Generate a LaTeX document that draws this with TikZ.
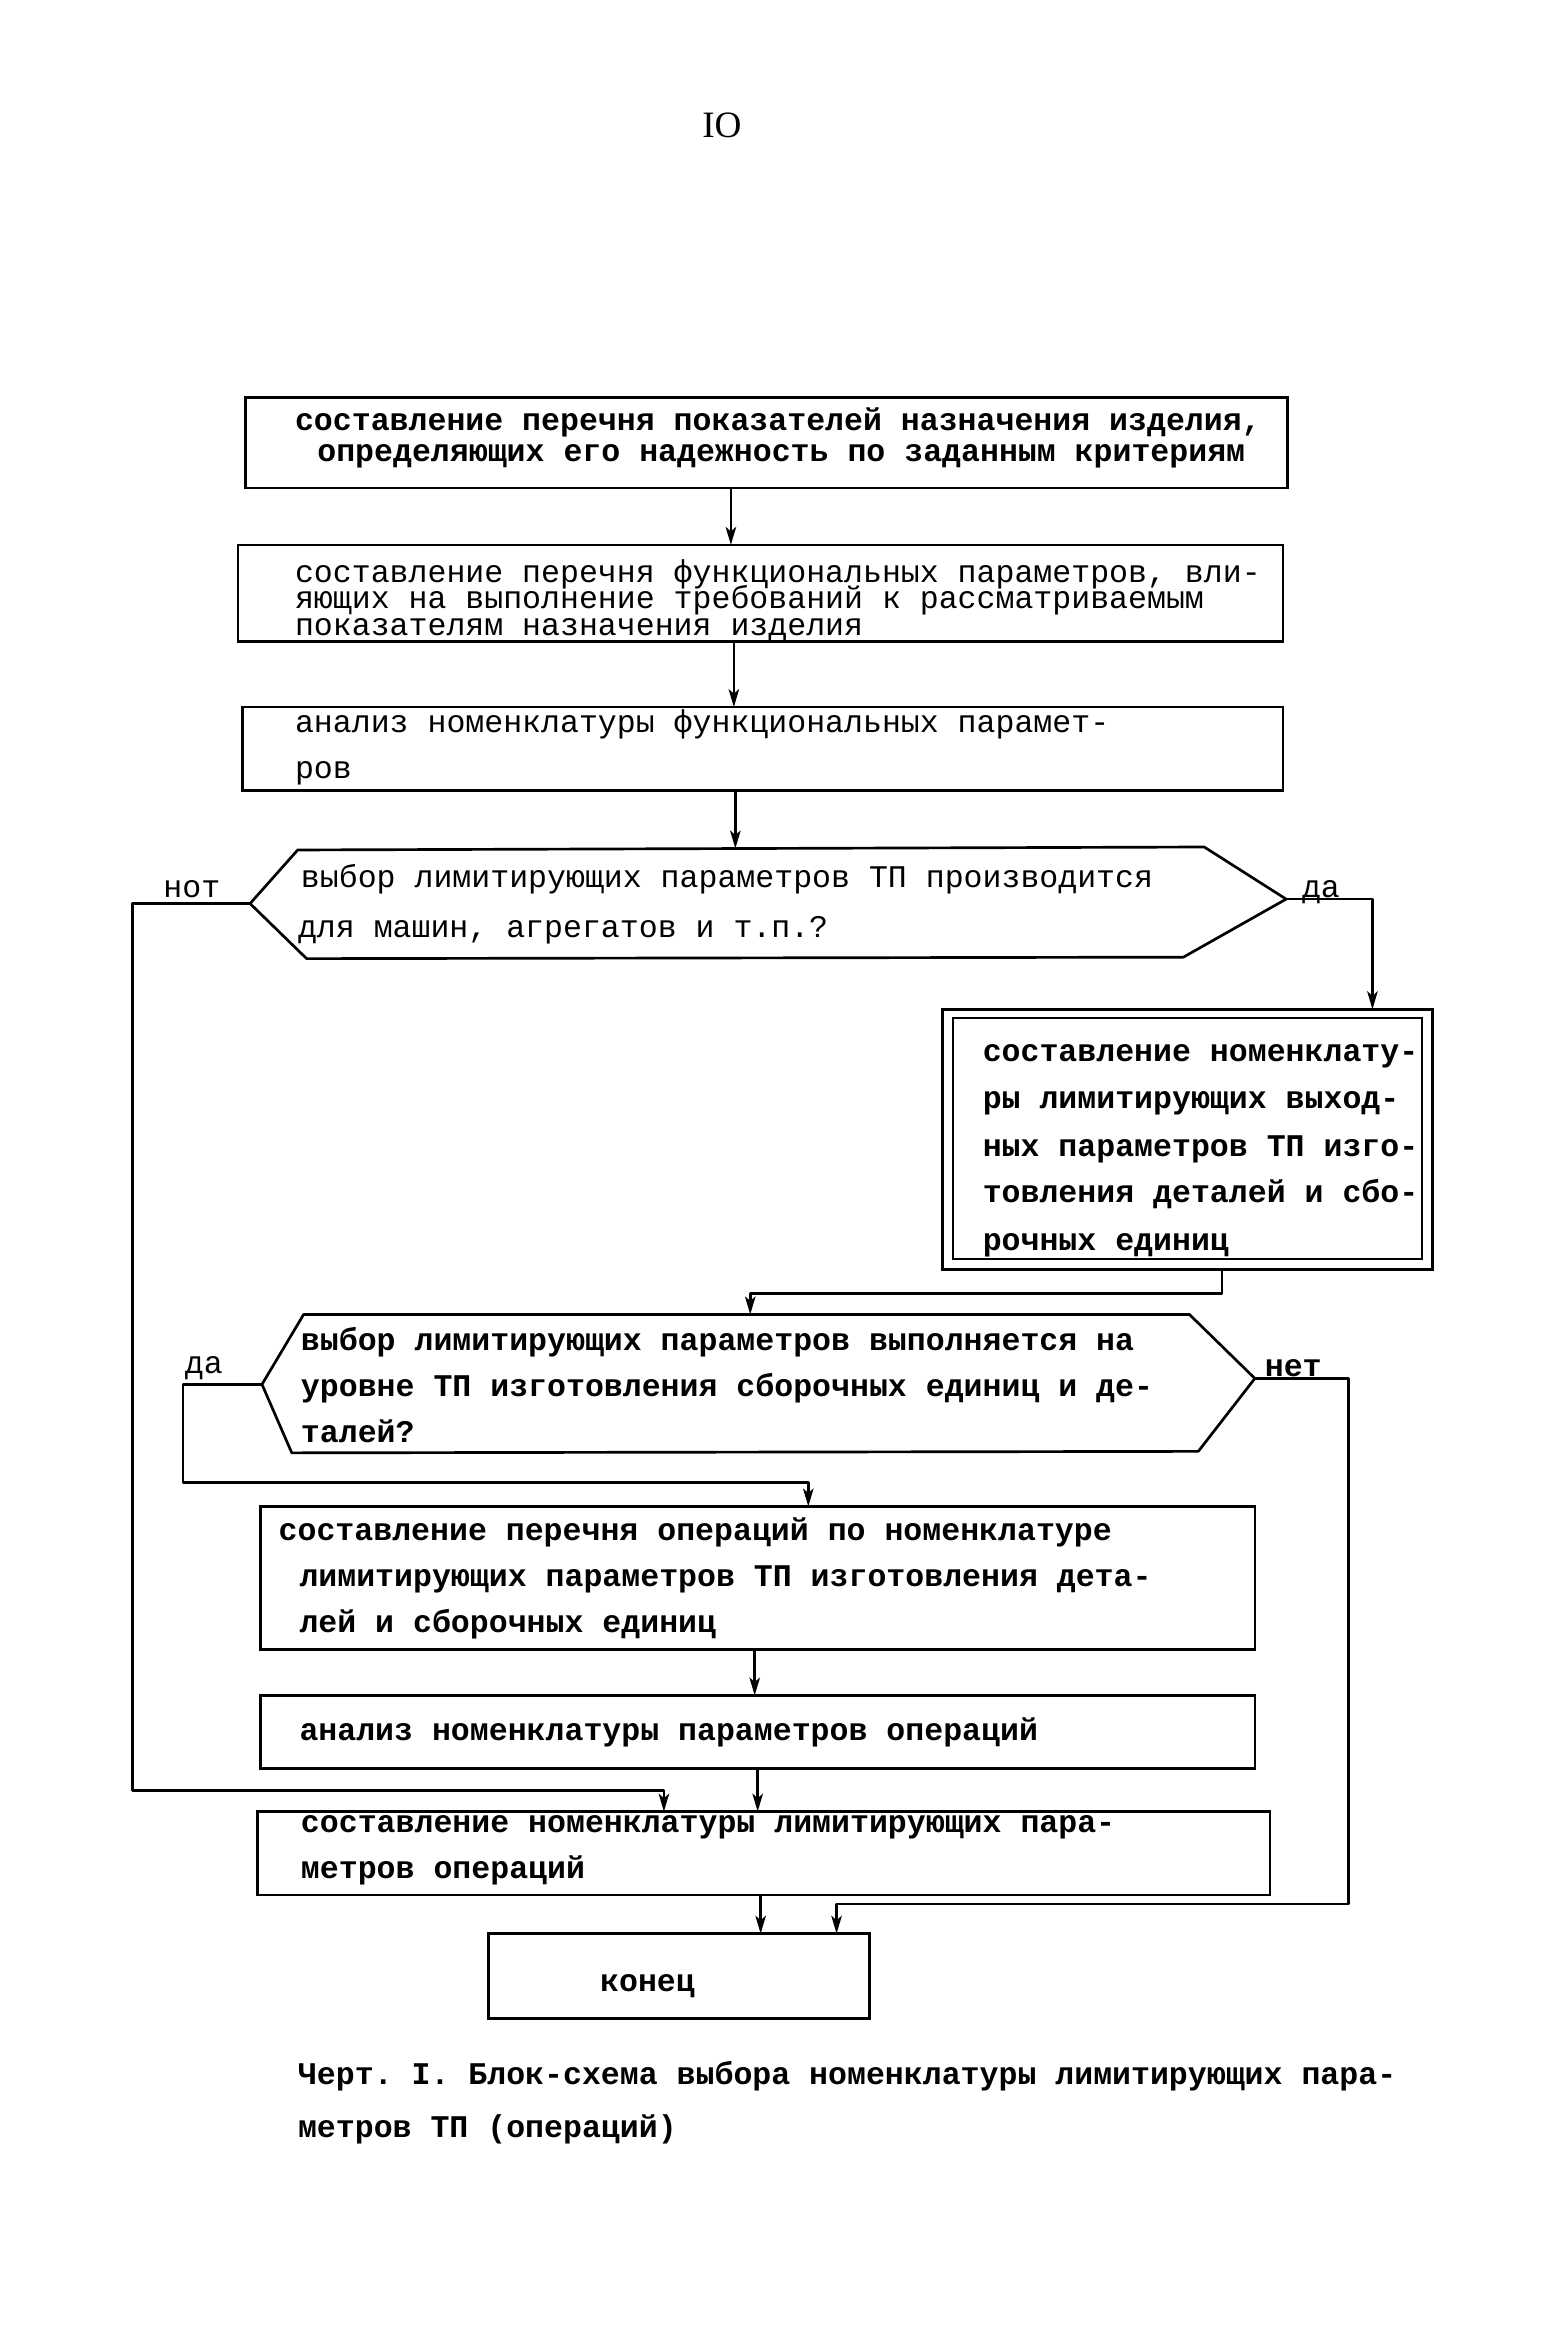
\documentclass[tikz,border=0pt]{standalone}
\usepackage{fontspec}
\setmonofont{Liberation Mono}
\newfontfamily\numfont{Liberation Serif}
\usetikzlibrary{arrows.meta}
\begin{document}
\begin{tikzpicture}[x=1pt,y=-1pt,
  box/.style={draw, line width=1.6pt, inner sep=0pt, outer sep=0pt},
  txt/.style={anchor=base west, inner sep=0pt, font=\ttfamily\fontsize{21.2}{24}\selectfont},
  txtb/.style={anchor=base west, inner sep=0pt, font=\ttfamily\bfseries\fontsize{21.2}{24}\selectfont},
  conn/.style={line width=1.8pt, line join=round},
  arr/.style={conn, -{Stealth[length=12pt,width=7pt,inset=3pt]}},
  hexa/.style={line width=1.8pt, line join=round}]
\fill[white] (0,0) rectangle (1050,1569.3);
\useasboundingbox (0,0) rectangle (1050,1569.3);

% page number
\node[anchor=base, inner sep=0pt, font=\numfont\fontsize{25}{25}\selectfont] (pg) at (485,92.5) {IO};

% boxes
\node[box, minimum width=700pt, minimum height=61pt] (b1) at (515,297.5) {};
\node[box, minimum width=702pt, minimum height=65pt] (b2) at (511,398.5) {};
\node[box, minimum width=699pt, minimum height=56pt] (b3) at (512.5,503) {};
\node[box, line width=2pt, minimum width=329pt, minimum height=175pt] (b4) at (797.5,765.5) {};
\node[box, line width=1.4pt, minimum width=315pt, minimum height=162pt] (b4i) at (797.5,765) {};
\node[box, minimum width=668pt, minimum height=96pt] (b5) at (509,1060) {};
\node[box, minimum width=668pt, minimum height=49pt] (b6) at (509,1163.5) {};
\node[box, minimum width=680pt, minimum height=56pt] (b7) at (513,1245) {};
\node[box, line width=1.8pt, minimum width=256pt, minimum height=57pt] (b8) at (456,1327.5) {};

% hexagon 1
\coordinate (h1L) at (168,607);
\coordinate (h1TL) at (200,571);
\coordinate (h1TR) at (809,569);
\coordinate (h1R) at (864,604);
\coordinate (h1BR) at (795,643);
\coordinate (h1BL) at (206,644);
\coordinate (h1T) at (494,570);
\draw[hexa] (h1L) -- (h1TL) -- (h1TR) -- (h1R) -- (h1BR) -- (h1BL) -- cycle;

% hexagon 2
\coordinate (h2L) at (176,930);
\coordinate (h2TL) at (204,883);
\coordinate (h2TR) at (799,883);
\coordinate (h2R) at (843,926);
\coordinate (h2BR) at (805,975);
\coordinate (h2BL) at (196,976);
\coordinate (h2T) at (504,883);
\draw[hexa] (h2L) -- (h2TL) -- (h2TR) -- (h2R) -- (h2BR) -- (h2BL) -- cycle;

% texts
\node[txtb] (t1a) at (198,289) {составление перечня показателей назначения изделия,};
\node[txtb] (t1b) at (213,310) {определяющих его надежность по заданным критериям};

\node[txt] (t2a) at (198,391) {составление перечня функциональных параметров, вли-};
\node[txt] (t2b) at (198,409) {яющих на выполнение требований к рассматриваемым};
\node[txt] (t2c) at (198,427) {показателям назначения изделия};

\node[txt] (t3a) at (198,492) {анализ номенклатуры функциональных парамет-};
\node[txt] (t3b) at (198,523) {ров};

\node[txt] (th1a) at (202,596) {выбор лимитирующих параметров ТП производится};
\node[txt] (th1b) at (200,630) {для машин, агрегатов и т.п.?};

\node[txtb] (t4a) at (660,713) {составление номенклату-};
\node[txtb] (t4b) at (660,745) {ры лимитирующих выход-};
\node[txtb] (t4c) at (660,777) {ных параметров ТП изго-};
\node[txtb] (t4d) at (660,808) {товления деталей и сбо-};
\node[txtb] (t4e) at (660,840) {рочных единиц};

\node[txtb] (th2a) at (202,907) {выбор лимитирующих параметров  выполняется на};
\node[txtb] (th2b) at (202,938) {уровне ТП изготовления сборочных единиц и де-};
\node[txtb] (th2c) at (202,969) {талей?};

\node[txtb] (t5a) at (187,1035) {составление перечня операций  по номенклатуре};
\node[txtb] (t5b) at (201,1066) {лимитирующих параметров ТП изготовления дета-};
\node[txtb] (t5c) at (201,1097) {лей и сборочных единиц};

\node[txtb] (t6a) at (201,1169) {анализ номенклатуры параметров операций};

\node[txtb] (t7a) at (202,1231) {составление номенклатуры лимитирующих пара-};
\node[txtb] (t7b) at (202,1262) {метров операций};

\node[txtb] (t8a) at (403,1338) {конец};

% labels
\node[txt] (lnot) at (109.6,603) {нот};
\node[txt] (lda1) at (874.5,603) {да};
\node[txt] (lda2) at (124,922.5) {да};
\node[txtb] (lnet) at (849.5,925) {нет};

% caption
\node[txtb] (cap1) at (200,1400) {Черт. I. Блок-схема выбора номенклатуры лимитирующих пара-};
\node[txtb] (cap2) at (200,1436) {метров ТП (операций)};

% connectors
\draw[arr] (b1.south -| 491,0) -- (b2.north -| 491,0);
\draw[arr] (b2.south -| 493,0) -- (b3.north -| 493,0);
\draw[arr] (b3.south -| 494,0) -- (h1T);
\draw[arr] (h1L) -- (89,607) -- (89,1203) -- (446,1203) -- (b7.north -| 446,0);
\draw[arr] (h1R) -- (922,604) -- (b4.north -| 922,0);
\draw[arr] (b4.south -| 821,0) -- (821,869) -- (504,869) -- (h2T);
\draw[arr] (h2L) -- (123,930) -- (123,996) -- (543,996) -- (b5.north -| 543,0);
\draw[arr] (h2R) -- (906,926) -- (906,1279) -- (562,1279) -- (b8.north -| 562,0);
\draw[arr] (b5.south -| 507,0) -- (b6.north -| 507,0);
\draw[arr] (b6.south -| 509,0) -- (b7.north -| 509,0);
\draw[arr] (b7.south -| 511,0) -- (b8.north -| 511,0);
\end{tikzpicture}
\end{document}
